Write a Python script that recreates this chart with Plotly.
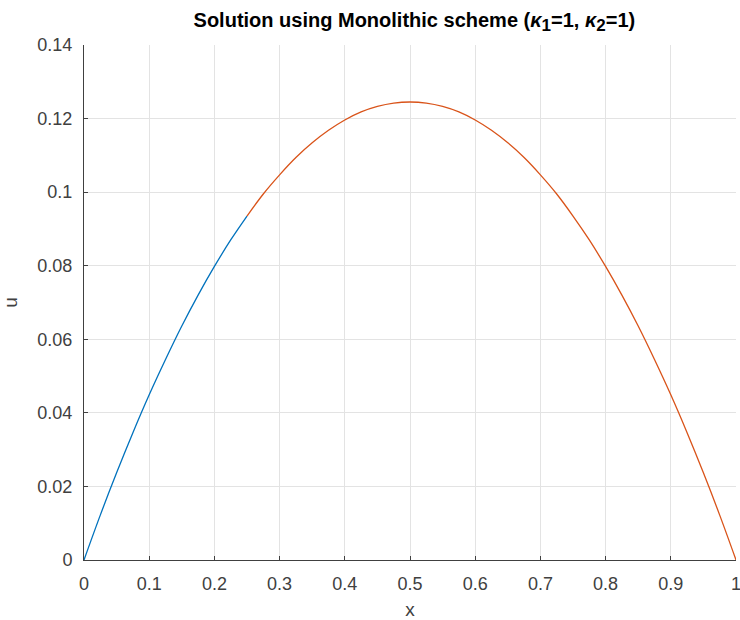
import plotly.graph_objects as go

# Values
x_left = [0.0, 0.025, 0.05, 0.075, 0.10, 0.125, 0.15, 0.175, 0.20, 0.225, 0.25]
u_left = [0.0, 0.0122, 0.0237, 0.0346, 0.0449, 0.0545, 0.0636, 0.0720, 0.0798, 0.0870, 0.0935]

x_right = [0.25, 0.275, 0.30, 0.325, 0.35, 0.375, 0.40, 0.425, 0.45, 0.475, 0.50,
           0.525, 0.55, 0.575, 0.60, 0.625, 0.65, 0.675, 0.70, 0.725, 0.75,
           0.775, 0.80, 0.825, 0.85, 0.875, 0.90, 0.925, 0.95, 0.975, 1.0]
u_right = [0.0935, 0.0995, 0.1047, 0.1094, 0.1134, 0.1168, 0.1196, 0.1218, 0.1233, 0.1242, 0.1245,
           0.1242, 0.1233, 0.1218, 0.1196, 0.1168, 0.1134, 0.1094, 0.1047, 0.0995, 0.0935,
           0.0870, 0.0798, 0.0720, 0.0636, 0.0545, 0.0449, 0.0346, 0.0237, 0.0122, 0.0]

x_ticks = [0, 0.1, 0.2, 0.3, 0.4, 0.5, 0.6, 0.7, 0.8, 0.9, 1]
x_tick_labels = ["0", "0.1", "0.2", "0.3", "0.4", "0.5", "0.6", "0.7", "0.8", "0.9", "1"]
y_ticks = [0, 0.02, 0.04, 0.06, 0.08, 0.10, 0.12, 0.14]
y_tick_labels = ["0", "0.02", "0.04", "0.06", "0.08", "0.1", "0.12", "0.14"]

FONT = "Liberation Sans, Arial, sans-serif"

fig = go.Figure()
fig.add_trace(go.Scatter(x=x_left, y=u_left, mode="lines",
                         line=dict(color="#0072BD", width=1.3, shape="spline"), showlegend=False))
fig.add_trace(go.Scatter(x=x_right, y=u_right, mode="lines",
                         line=dict(color="#D95319", width=1.3, shape="spline"), showlegend=False))

axis_common = dict(
    showgrid=True, gridcolor="#e3e3e3", gridwidth=1,
    showline=True, linecolor="#404040", linewidth=1, mirror=False,
    ticks="inside", ticklen=4, tickcolor="#404040", tickwidth=1,
    zeroline=False, automargin=False, ticklabeloverflow="allow",
    tickfont=dict(family=FONT, size=18, color="#404040"),
)

title_text = ("<b>Solution using Monolithic scheme (<i>κ</i><sub><span style='font-size:17px'>1</span></sub>=1, "
              "<i>κ</i><sub><span style='font-size:17px'>2</span></sub>=1)</b>")

fig.update_layout(
    width=740, height=620,
    margin=dict(l=84, r=4, t=45, b=60),
    paper_bgcolor="white", plot_bgcolor="white",
    title=dict(
        text=title_text,
        x=0.56, xanchor="center", y=0.968, yanchor="middle",
        font=dict(family=FONT, size=20, color="#000000"),
    ),
    xaxis=dict(range=[0, 1], tickvals=x_ticks, ticktext=x_tick_labels, ticklabelstandoff=7,
               title=dict(text="x", font=dict(family=FONT, size=19, color="#404040"), standoff=14),
               **axis_common),
    yaxis=dict(range=[0, 0.14], tickvals=y_ticks, ticktext=y_tick_labels, ticklabelstandoff=7,
               title=dict(text="u", font=dict(family=FONT, size=19, color="#404040"), standoff=14),
               **axis_common),
)

fig.write_html("out.html")
